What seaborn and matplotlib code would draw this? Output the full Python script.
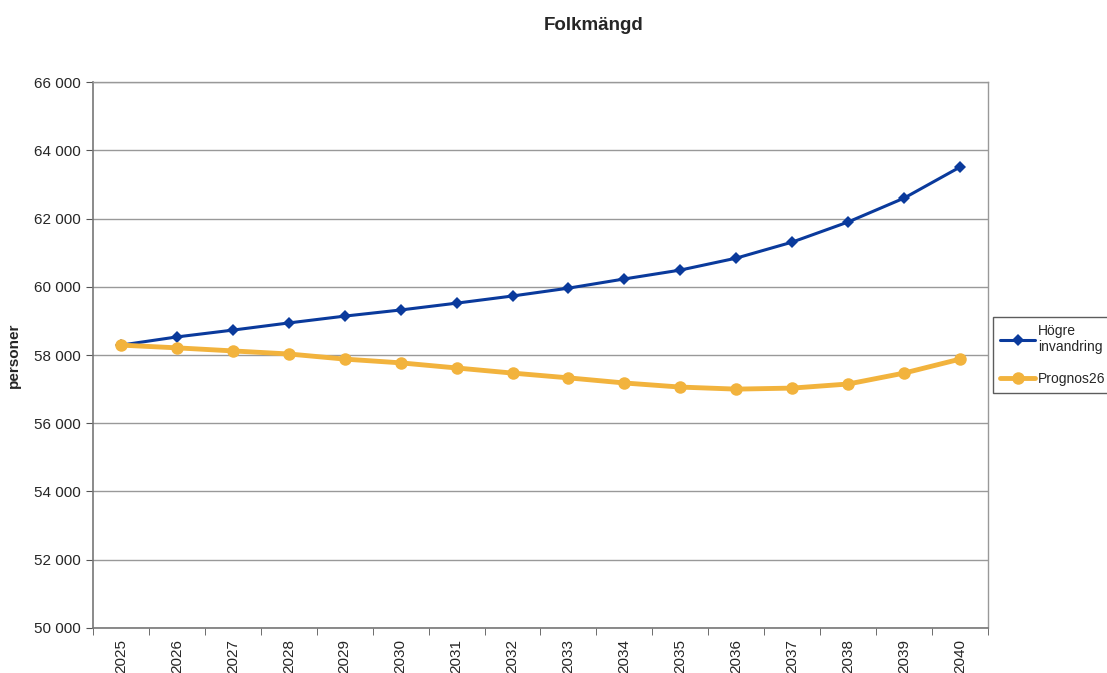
import numpy as np
import pandas as pd
import seaborn as sns
import matplotlib.pyplot as plt
from matplotlib.ticker import FuncFormatter, MultipleLocator

# data
years = list(range(2025, 2041))
hogre = [58290, 58530, 58730, 58940, 59140, 59320, 59520, 59730,
         59960, 60230, 60490, 60840, 61310, 61900, 62600, 63510]
prognos = [58290, 58210, 58120, 58030, 57880, 57770, 57620, 57470,
           57330, 57180, 57060, 57000, 57030, 57150, 57470, 57880]
series_names = ['Högre\ninvandring', 'Prognos26']

df = pd.DataFrame({
    'År': years * 2,
    'personer': hogre + prognos,
    'serie': [series_names[0]] * len(years) + [series_names[1]] * len(years),
})

sns.set_style('white')
plt.rcParams['font.family'] = ['Liberation Sans', 'DejaVu Sans']

fig = plt.figure(figsize=(11.07, 6.73), dpi=100)
ax = fig.add_axes([0.084, 0.067, 0.8085, 0.811])

colors = {series_names[0]: '#0A3A9C', series_names[1]: '#F2B33D'}
sns.lineplot(data=df[df['serie'] == series_names[0]], x='År', y='personer',
             color=colors[series_names[0]], lw=2.2, marker='D', markersize=6,
             markeredgewidth=0, label=series_names[0], ax=ax, zorder=3)
sns.lineplot(data=df[df['serie'] == series_names[1]], x='År', y='personer',
             color=colors[series_names[1]], lw=3.5, marker='o', markersize=9,
             markeredgewidth=0, label=series_names[1], ax=ax, zorder=3)

# axes
ax.set_xlim(2024.5, 2040.5)
ax.set_ylim(50000, 66000)
ax.yaxis.set_major_locator(MultipleLocator(2000))
ax.yaxis.set_major_formatter(FuncFormatter(lambda v, p: f'{int(v):,}'.replace(',', ' ')))
ax.set_xticks(years)
ax.set_xticklabels([str(y) for y in years], rotation=90)
ax.set_xticks(np.arange(2024.5, 2041, 1), minor=True)
ax.tick_params(axis='x', which='major', length=0, pad=8, labelsize=11)
ax.tick_params(axis='x', which='minor', length=5, color='#555555', direction='out', bottom=True)
ax.tick_params(axis='y', length=5, color='#555555', direction='out', left=True, labelsize=11)
ax.grid(axis='y', color='#999999', lw=1)
for side, sp in ax.spines.items():
    sp.set_color('#777777' if side in ('left', 'bottom') else '#999999')
    sp.set_linewidth(1.2 if side in ('left', 'bottom') else 1)

ax.set_xlabel('')
ax.set_ylabel('personer', fontsize=11, fontweight='bold', labelpad=10)
fig.suptitle('Folkmängd', x=0.536, y=0.975, fontsize=13.5, fontweight='bold')

leg = ax.legend(loc='center left', bbox_to_anchor=(1.006, 0.5), frameon=True,
                fancybox=False, edgecolor='#333333', fontsize=10,
                handlelength=2.5, handletextpad=0.2, labelspacing=1.3,
                borderpad=0.5, borderaxespad=0)
leg.get_frame().set_linewidth(1)

fig.savefig('out.png', dpi=100)
